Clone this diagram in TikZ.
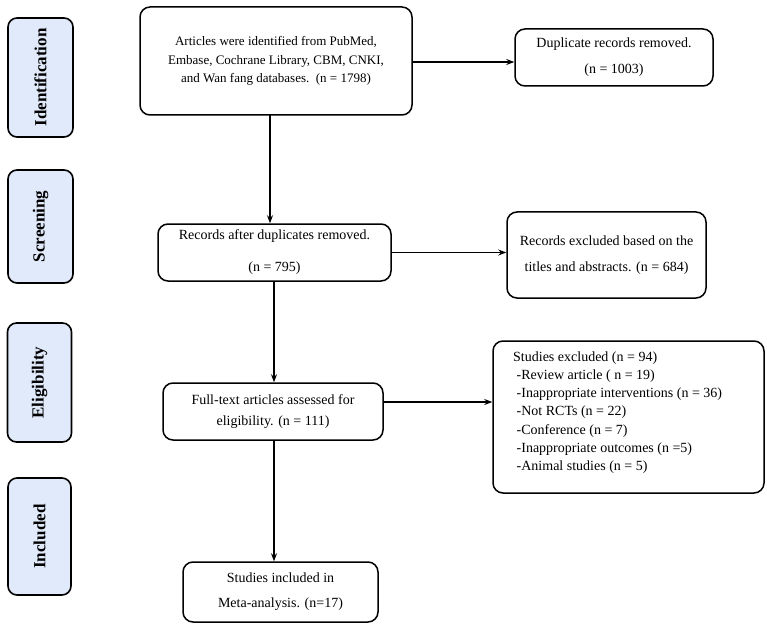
\documentclass[tikz,border=0pt]{standalone}
\usepackage{fontspec}
\setmainfont{Liberation Serif}
\usetikzlibrary{arrows.meta}
\definecolor{stagefill}{HTML}{E1EAFB}
\tikzset{
  stagebox/.style={draw=black, line width=1.6pt, rounded corners=9pt, fill=stagefill,
    minimum width=65pt, inner sep=0pt, font=\fontsize{17}{20}\selectfont\bfseries},
  flowbox/.style={draw=black, line width=1.5pt, rounded corners=10pt, fill=white,
    inner sep=0pt, align=center, font=\fontsize{14}{18}\selectfont},
  conn/.style={line width=1.2pt, -{Stealth[length=8pt,width=6pt]}},
  plain/.style={line width=1.2pt}
}
\begin{document}
\begin{tikzpicture}[x=1pt,y=-1pt]
\useasboundingbox (0,0) rectangle (767,628);
% stage labels
\node[stagebox, minimum height=119pt] (sid) at (40.5,77.5) {\rotatebox{90}{Identification}};
\node[stagebox, minimum height=113pt] (sscr) at (40.5,226.5) {\rotatebox{90}{Screening}};
\node[stagebox, minimum height=119pt, minimum width=64pt] (selig) at (39.5,382.5) {\rotatebox{90}{Eligibility}};
\node[stagebox, minimum height=117pt, minimum width=63pt] (sincl) at (39.5,536.5) {\rotatebox{90}{Included}};
% flow boxes
\node[flowbox, minimum width=272pt, minimum height=108pt, font=\fontsize{13}{18.5}\selectfont] (b1) at (276,61)
  {Articles were identified from PubMed,\\Embase, Cochrane Library, CBM, CNKI,\\and Wan fang databases.\ \ (n = 1798)};
\node[flowbox, minimum width=198pt, minimum height=57pt] (b3) at (614,57.5)
  {Duplicate records removed.\\[8pt](n = 1003)};
\node[flowbox, minimum width=233pt, minimum height=57pt] (b2) at (274.5,252.5)
  {Records after duplicates removed.\\[14pt](n = 795)};
\node[flowbox, minimum width=199pt, minimum height=86pt] (b4) at (606.5,255)
  {Records excluded based on the\\[8.5pt]titles and abstracts. (n = 684)};
\node[flowbox, minimum width=220pt, minimum height=57pt] (b5) at (273,411.5)
  {Full-text articles assessed for\\[3pt]eligibility. (n = 111)};
\node[flowbox, minimum width=271pt, minimum height=152pt] (b6) at (628.5,417) {};
\node[anchor=west, align=left, inner sep=0pt, font=\fontsize{14}{18.2}\selectfont] (b6t) at (513,412.5)
  {Studies excluded (n = 94)\\
   \ -Review article ( n = 19)\\
   \ -Inappropriate interventions (n = 36)\\
   \ -Not RCTs (n = 22)\\
   \ -Conference (n = 7)\\
   \ -Inappropriate outcomes (n =5)\\
   \ -Animal studies (n = 5)};
\node[flowbox, minimum width=195pt, minimum height=60pt] (b7) at (280.5,592)
  {Studies included in\\[7pt]Meta-analysis. (n=17)};
% connectors
\coordinate (b1s) at (270,115);
\draw[conn] (b1s) -- (b1s |- b2.north);
\coordinate (b1e) at (412,62);
\draw[conn] (b1e) -- (b1e -| b3.west);
\draw[conn] (b2.east) -- (b2.east -| b4.west);
\coordinate (b2s) at (274,281);
\draw[conn] (b2s) -- (b2s |- b5.north);
\coordinate (b5e) at (383,402);
\draw[conn] (b5e) -- (b5e -| b6.west);
\coordinate (b5s) at (274,440);
\draw[conn] (b5s) -- (b5s |- b7.north);
\end{tikzpicture}
\end{document}
